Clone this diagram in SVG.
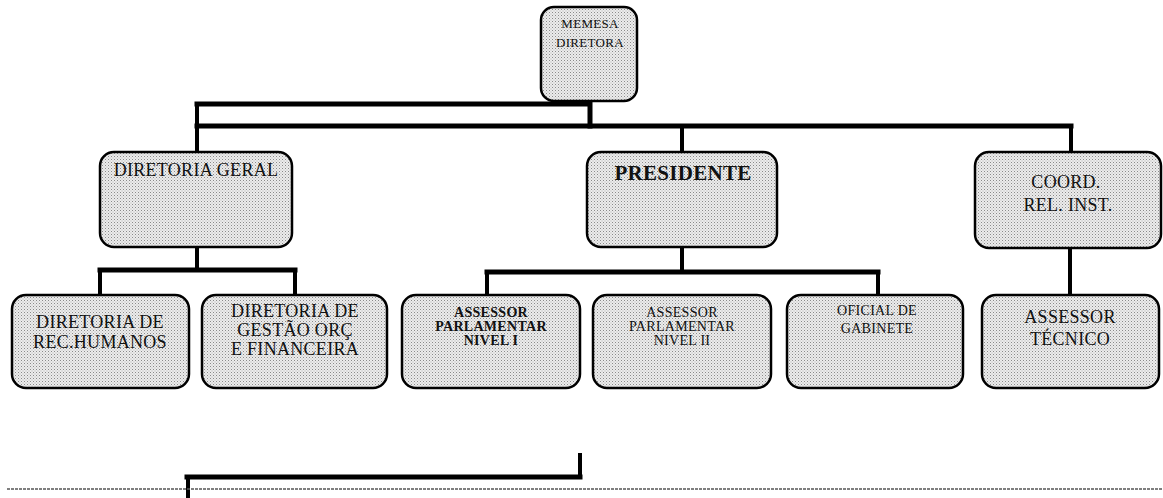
<svg xmlns="http://www.w3.org/2000/svg" width="1163" height="498" viewBox="0 0 1163 498">
<defs>
<pattern id="dots" width="3" height="3" patternUnits="userSpaceOnUse">
<rect width="3" height="3" fill="#ececec"/>
<rect x="0" y="0" width="1" height="1" fill="#8a8a8a"/>
<rect x="1.5" y="1.5" width="1" height="1" fill="#b0b0b0"/>
</pattern>
<style>
.box{fill:url(#dots);stroke:#000;stroke-width:2.5}
.t{font-family:"Liberation Serif","Times New Roman",serif;fill:#111;text-anchor:middle;letter-spacing:0.3px}
.c{fill:none;stroke:#000;stroke-linecap:square;stroke-linejoin:miter}
.w5{stroke-width:5}
.w4{stroke-width:4}
</style>
</defs>
<rect width="1163" height="498" fill="#fff"/>
<g id="connectors">
<path class="c w5" d="M197 104 H590 V126"/>
<path class="c w5" d="M197 126 H1071"/>
<path class="c w4" d="M197 104 V152"/>
<path class="c w4" d="M682 126 V152"/>
<path class="c w4" d="M1071 126 V152"/>
<path class="c w4" d="M197 247 V270"/>
<path class="c w5" d="M100 270 H295"/>
<path class="c w4" d="M100 270 V295 M295 270 V295"/>
<path class="c w4" d="M682 247 V272"/>
<path class="c w5" d="M487 272 H878"/>
<path class="c w4" d="M487 272 V295 M878 272 V295"/>
<path class="c w4" d="M1070 248 V295"/>
<path class="c w4" d="M580 455 V477"/>
<path class="c w5" d="M187 477 H580"/>
<path class="c w4" d="M188 477 V498"/>
<line x1="7" y1="489" x2="1163" y2="489" stroke="#555" stroke-width="1.5" stroke-dasharray="3 1"/>
</g>
<g id="n-memesa">
<rect class="box" x="541" y="7" width="96" height="94" rx="13"/>
<text class="t" x="590" y="28" font-size="13">MEMESA</text>
<text class="t" x="590" y="47" font-size="13">DIRETORA</text>
</g>
<g id="n-dirgeral">
<rect class="box" x="100" y="152" width="192" height="95" rx="14"/>
<text class="t" x="196" y="176" font-size="18">DIRETORIA GERAL</text>
</g>
<g id="n-presidente">
<rect class="box" x="587" y="152" width="190" height="95" rx="14"/>
<text class="t" x="683" y="180" font-size="21" font-weight="bold">PRESIDENTE</text>
</g>
<g id="n-coord">
<rect class="box" x="975" y="152" width="186" height="96" rx="14"/>
<text class="t" x="1066" y="188" font-size="18">COORD.</text>
<text class="t" x="1068" y="211" font-size="18">REL. INST.</text>
</g>
<g id="n-rechumanos">
<rect class="box" x="12" y="295" width="177" height="93" rx="14"/>
<text class="t" x="100" y="328" font-size="18">DIRETORIA DE</text>
<text class="t" x="100" y="348" font-size="18">REC.HUMANOS</text>
</g>
<g id="n-gestao">
<rect class="box" x="202" y="295" width="185" height="93" rx="14"/>
<text class="t" x="295" y="317" font-size="18">DIRETORIA DE</text>
<text class="t" x="295" y="336" font-size="18">GESTÃO ORÇ</text>
<text class="t" x="295" y="355" font-size="18">E FINANCEIRA</text>
</g>
<g id="n-ap1">
<rect class="box" x="402" y="295" width="178" height="93" rx="14"/>
<text class="t" x="491" y="317" font-size="14" font-weight="bold">ASSESSOR</text>
<text class="t" x="491" y="331" font-size="14" font-weight="bold">PARLAMENTAR</text>
<text class="t" x="491" y="345" font-size="14" font-weight="bold">NIVEL I</text>
</g>
<g id="n-ap2">
<rect class="box" x="593" y="295" width="178" height="93" rx="14"/>
<text class="t" x="682" y="317" font-size="14">ASSESSOR</text>
<text class="t" x="682" y="331" font-size="14">PARLAMENTAR</text>
<text class="t" x="682" y="345" font-size="14">NIVEL II</text>
</g>
<g id="n-oficial">
<rect class="box" x="787" y="295" width="176" height="93" rx="14"/>
<text class="t" x="877" y="315" font-size="14">OFICIAL DE</text>
<text class="t" x="877" y="333" font-size="14">GABINETE</text>
</g>
<g id="n-tecnico">
<rect class="box" x="982" y="295" width="177" height="93" rx="14"/>
<text class="t" x="1070" y="323" font-size="18">ASSESSOR</text>
<text class="t" x="1070" y="345" font-size="18">TÉCNICO</text>
</g>
</svg>
